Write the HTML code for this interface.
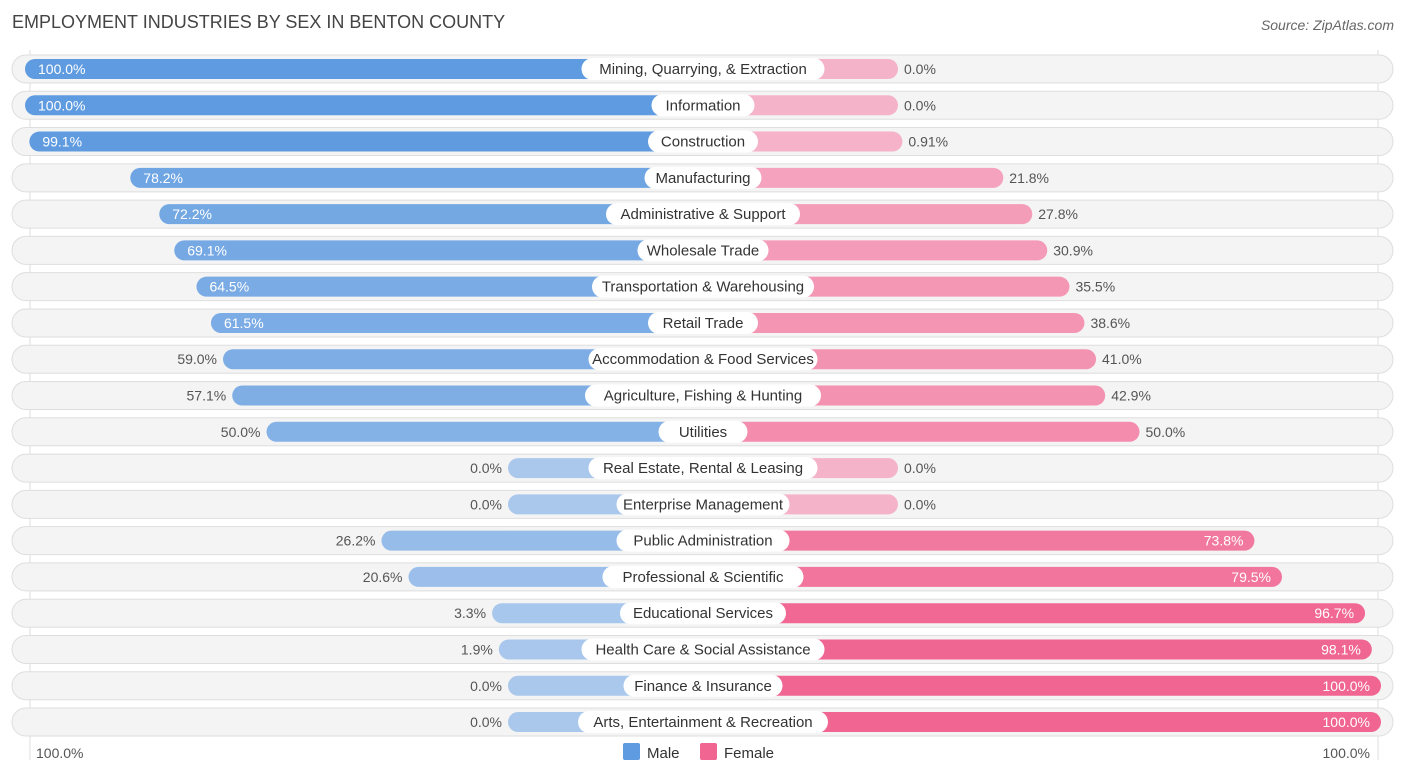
<!DOCTYPE html>
<html><head><meta charset="utf-8"><style>
body{margin:0;background:#fff;font-family:"Liberation Sans",sans-serif;}
#c{position:relative;width:1406px;height:776px;overflow:hidden;}
</style></head><body>
<div id="c">
<svg width="1406" height="776" id="svg">
<text x="12" y="28" font-size="18" fill="#444">EMPLOYMENT INDUSTRIES BY SEX IN BENTON COUNTY</text>
<text x="1394" y="30" font-size="14" fill="#666" font-style="italic" text-anchor="end">Source: ZipAtlas.com</text>
<line x1="30" y1="50" x2="30" y2="760" stroke="#ddd"/>
<line x1="1378" y1="50" x2="1378" y2="760" stroke="#ddd"/>
<g id="rows"></g>
<text x="36" y="758" font-size="14" fill="#555">100.0%</text>
<text x="1370" y="758" font-size="14" fill="#555" text-anchor="end">100.0%</text>
<rect x="623" y="743" width="17" height="17" rx="2" fill="#5f9be0"/>
<text x="647" y="758" font-size="15" fill="#333">Male</text>
<rect x="700" y="743" width="17" height="17" rx="2" fill="#f06591"/>
<text x="724" y="758" font-size="15" fill="#333">Female</text>
</svg></div>
<script>
const categories=["Mining, Quarrying, & Extraction","Information","Construction","Manufacturing","Administrative & Support","Wholesale Trade","Transportation & Warehousing","Retail Trade","Accommodation & Food Services","Agriculture, Fishing & Hunting","Utilities","Real Estate, Rental & Leasing","Enterprise Management","Public Administration","Professional & Scientific","Educational Services","Health Care & Social Assistance","Finance & Insurance","Arts, Entertainment & Recreation"];
const maleValues=[100,100,99.1,78.2,72.2,69.1,64.5,61.5,59.0,57.1,50.0,0,0,26.2,20.6,3.3,1.9,0,0];
const femaleValues=[0,0,0.91,21.8,27.8,30.9,35.5,38.6,41.0,42.9,50.0,0,0,73.8,79.5,96.7,98.1,100,100];
const maleLabels=["100.0%","100.0%","99.1%","78.2%","72.2%","69.1%","64.5%","61.5%","59.0%","57.1%","50.0%","0.0%","0.0%","26.2%","20.6%","3.3%","1.9%","0.0%","0.0%"];
const femaleLabels=["0.0%","0.0%","0.91%","21.8%","27.8%","30.9%","35.5%","38.6%","41.0%","42.9%","50.0%","0.0%","0.0%","73.8%","79.5%","96.7%","98.1%","100.0%","100.0%"];
const NS="http://www.w3.org/2000/svg";
const cx=703,base=195,k=4.83,y0=69,dy=36.28;
function ext(v){return base+v*k;}
function mix(a,b,t){return "rgb("+a.map((x,i)=>Math.round(x+(b[i]-x)*t)).join(",")+")";}
const g=document.getElementById("rows");
function mk(tag,attrs){const e=document.createElementNS(NS,tag);for(const a in attrs)e.setAttribute(a,attrs[a]);return e;}
categories.forEach((cat,i)=>{
  const y=y0+i*dy;
  const row=mk("g",{});
  
  
  const bg=mk("rect",{x:12,y:y-14,width:1381,height:28,rx:14,fill:"#f4f4f4",stroke:"#dedede"});
  
  
  row.appendChild(bg);
  const mv=maleValues[i],fv=femaleValues[i];
  const mw=ext(mv),fw=ext(fv);
  const mb=mk("rect",{x:cx-mw,y:y-10,width:mw,height:20,rx:10,fill:mix([170,200,236],[95,155,224],mv/100)});
  
  
  row.appendChild(mb);
  const fb=mk("rect",{x:cx,y:y-10,width:fw,height:20,rx:10,fill:mix([245,179,201],[240,101,145],fv/100)});
  
  
  row.appendChild(fb);
  const tw=cat.length*7.0+26;
  const lp=mk("rect",{x:cx-tw/2,y:y-11,width:tw,height:22,rx:11,fill:"#fff"});
  
  
  row.appendChild(lp);
  const lt=mk("text",{x:cx,y:y+5,"font-size":15,fill:"#333","text-anchor":"middle"});
  lt.textContent=cat;
  
  
  row.appendChild(lt);
  const mIn=mv>60;
  const mt=mk("text",{x:mIn?cx-mw+13:cx-mw-6,y:y+5,"font-size":14,fill:mIn?"#fff":"#555","text-anchor":mIn?"start":"end"});
  mt.textContent=maleLabels[i];
  
  
  row.appendChild(mt);
  const fIn=fv>60;
  const ft=mk("text",{x:fIn?cx+fw-11:cx+fw+6,y:y+5,"font-size":14,fill:fIn?"#fff":"#555","text-anchor":fIn?"end":"start"});
  ft.textContent=femaleLabels[i];
  
  
  row.appendChild(ft);
  g.appendChild(row);
});
</script>
</body></html>
